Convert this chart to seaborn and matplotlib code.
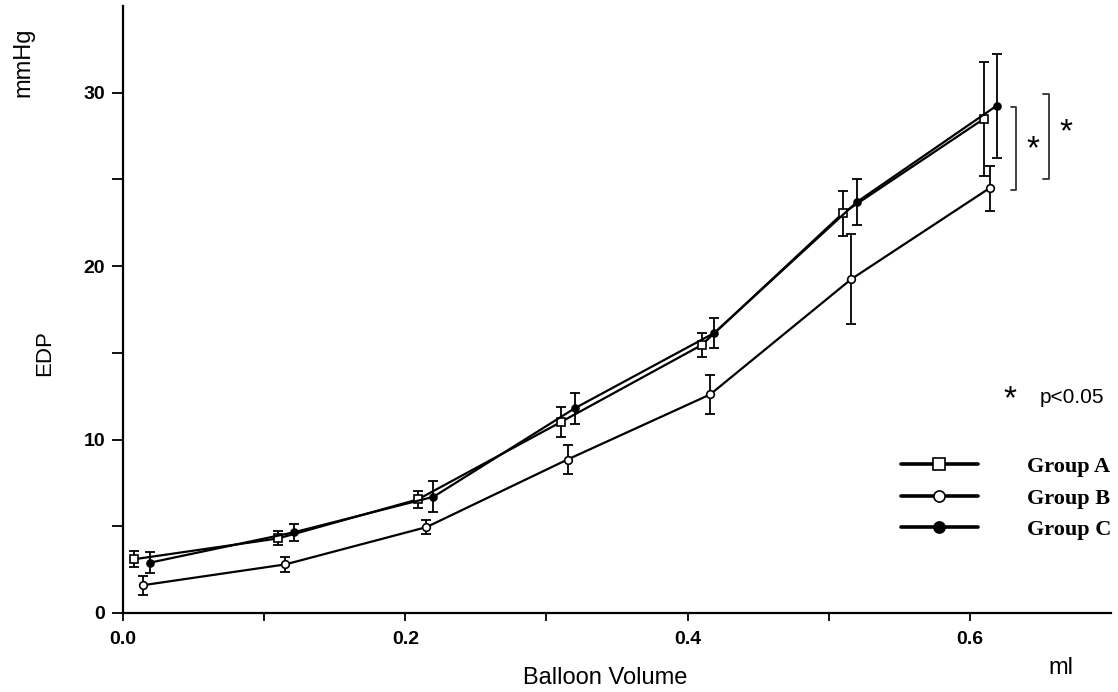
import matplotlib
matplotlib.use("Agg")
import matplotlib.pyplot as plt
import seaborn as sns
import pandas as pd

# ---- data ----
groups = ["Group A", "Group B", "Group C"]
x_A = [0.008, 0.110, 0.209, 0.310, 0.410, 0.510, 0.610]
y_A = [3.1, 4.3, 6.55, 11.0, 15.45, 23.05, 28.5]
e_A = [0.45, 0.4, 0.5, 0.85, 0.7, 1.3, 3.3]
x_B = [0.014, 0.115, 0.215, 0.315, 0.416, 0.516, 0.614]
y_B = [1.6, 2.8, 4.95, 8.85, 12.6, 19.25, 24.5]
e_B = [0.55, 0.43, 0.4, 0.85, 1.1, 2.6, 1.3]
x_C = [0.019, 0.121, 0.220, 0.320, 0.419, 0.520, 0.619]
y_C = [2.9, 4.65, 6.7, 11.8, 16.15, 23.7, 29.25]
e_C = [0.6, 0.5, 0.9, 0.9, 0.85, 1.3, 3.0]
x_ticks = [0.0, 0.2, 0.4, 0.6]
x_tick_labels = ["0.0", "0.2", "0.4", "0.6"]
y_ticks = [0, 10, 20, 30]
# significance brackets: (x, y_low, y_high, star_x, star_y)
brackets = [(0.633, 24.4, 29.2, 0.645, 26.7), (0.656, 25.0, 29.9, 0.668, 27.7)]

sns.set_theme(style="ticks")
plt.rcParams["font.family"] = ["Liberation Sans", "DejaVu Sans"]
plt.rcParams.update({"text.color": "black", "axes.labelcolor": "black",
                     "xtick.color": "black", "ytick.color": "black",
                     "axes.edgecolor": "black"})

fig = plt.figure(figsize=(11.18, 6.92), dpi=100)
ax = fig.add_axes([0.110, 0.1142, 0.8837, 0.8771])

series = [
    (groups[0], x_A, y_A, e_A, dict(marker="s", markersize=6, markerfacecolor="white")),
    (groups[1], x_B, y_B, e_B, dict(marker="o", markersize=5.5, markerfacecolor="white")),
    (groups[2], x_C, y_C, e_C, dict(marker="o", markersize=5, markerfacecolor="black")),
]
for name, xs, ys, es, mk in series:
    df = pd.DataFrame({"x": xs, "y": ys})
    ax.errorbar(xs, ys, yerr=es, fmt="none", ecolor="black", elinewidth=1.3,
                capsize=3.5, capthick=1.3, zorder=2)
    sns.lineplot(data=df, x="x", y="y", ax=ax, color="black", linewidth=1.6,
                 markeredgecolor="black", markeredgewidth=1.2, label=name,
                 legend=False, zorder=3, sort=False, **mk)

# brackets and stars
for bx, ylo, yhi, sx, sy in brackets:
    ax.plot([bx - 0.004, bx, bx, bx - 0.004], [ylo, ylo, yhi, yhi],
            color="#333333", linewidth=1.3, clip_on=False)
    ax.text(sx, sy, "*", fontsize=24, ha="center", va="center")

ax.set_xlim(0, 0.7)
ax.set_ylim(0, 35)
ax.set_xticks(x_ticks)
ax.set_xticklabels(x_tick_labels)
ax.set_xticks([0.1, 0.3, 0.5], minor=True)
ax.set_yticks(y_ticks)
ax.set_yticks([5, 15, 25], minor=True)
ax.tick_params(axis="both", which="both", direction="out", color="black", width=1.3,
               labelcolor="black")
ax.tick_params(axis="y", which="both", length=8, pad=5)
ax.tick_params(axis="x", which="both", length=6, pad=7)
for lbl in ax.get_xticklabels() + ax.get_yticklabels():
    lbl.set_fontsize(14)
    lbl.set_fontweight("bold")
ax.spines["top"].set_visible(False)
ax.spines["right"].set_visible(False)
ax.spines["left"].set_linewidth(1.6)
ax.spines["bottom"].set_linewidth(1.6)
ax.set_xlabel("")
ax.set_ylabel("")

fig.text(0.541, 0.020, "Balloon Volume", fontsize=17, ha="center", va="center")
fig.text(0.949, 0.034, "ml", fontsize=17, ha="center", va="center")
fig.text(0.040, 0.49, "EDP", fontsize=16, rotation=90, ha="center", va="center")
fig.text(0.0206, 0.910, "mmHg", fontsize=17, rotation=90, ha="center", va="center")
fig.text(0.903, 0.423, "*", fontsize=24, ha="center", va="center")
fig.text(0.930, 0.425, "p<0.05", fontsize=15, ha="left", va="center")

# legend
handles, labels = ax.get_legend_handles_labels()
leg = ax.legend(handles, labels, loc="upper left", bbox_to_anchor=(0.787, 0.258),
                frameon=False, handlelength=3.5, handletextpad=2.2, labelspacing=0.5,
                borderpad=0, borderaxespad=0,
                prop={"family": "Liberation Serif", "weight": "bold", "size": 16},
                markerfirst=True)
for h in leg.get_lines():
    h.set_linewidth(2.6)
    h.set_markersize(8)

fig.savefig("out.png", dpi=100)
